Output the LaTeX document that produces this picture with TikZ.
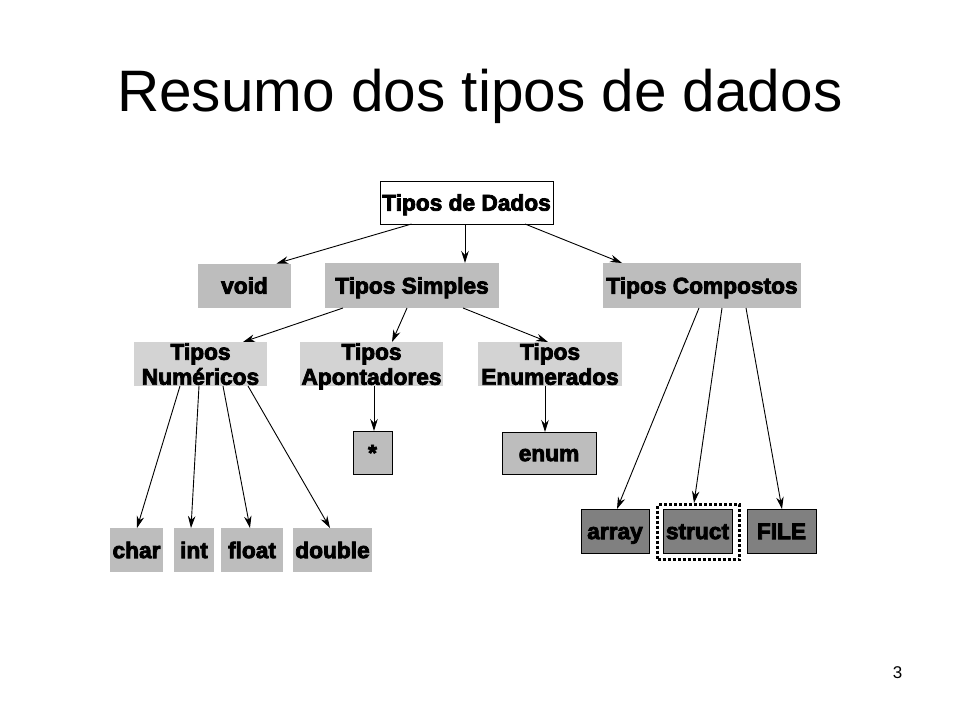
\documentclass[tikz,border=0pt]{standalone}
\usepackage{fontspec}
\setmainfont{Liberation Sans}
\newfontfamily\heavyfont{Liberation Sans Bold}[FakeBold=3.5]
\usetikzlibrary{arrows.meta}
\definecolor{midgray}{HTML}{BDBDBD}
\definecolor{lightgray}{HTML}{D3D3D3}
\definecolor{darkgray}{HTML}{808080}
\begin{document}
\begin{tikzpicture}[x=1pt,y=-1pt,
  box/.style={inner sep=0pt,outer sep=0pt,font=\heavyfont\fontsize{22.7}{25}\selectfont,align=center},
  one/.style={box,text height=16.2pt,text depth=0pt},
  whitebox/.style={one,draw=black,line width=0.8pt,fill=white},
  graybox/.style={one,fill=midgray},
  lightbox/.style={box,fill=lightgray,text depth=0pt},
  framedgray/.style={one,fill=midgray,draw=black,line width=0.8pt},
  darkbox/.style={one,fill=darkgray,draw=black,line width=0.8pt},
  wh/.style 2 args={minimum width=#1pt,minimum height=#2pt},
  arr/.style={-{Stealth[length=12pt,width=7.5pt]},line width=0.9pt}
]
\useasboundingbox (0,0) rectangle (960,720);
\fill[white] (0,0) rectangle (960,720);

\node[anchor=base west,inner sep=0pt,font=\fontsize{58.5}{60}\selectfont] (title) at (117,111) {Resumo dos tipos de dados};
\node[anchor=base,inner sep=0pt,font=\fontsize{17}{18}\selectfont] (page) at (897.5,678) {3};

\node[whitebox,wh={173}{43}] (tdd) at (466.5,202.5) {Tipos de Dados};
\node[graybox,wh={93}{44}] (void) at (244.5,285.5) {void};
\node[graybox,wh={174}{45}] (ts) at (412,285.5) {Tipos Simples};
\node[graybox,wh={198}{45}] (tc) at (702,285.5) {Tipos Compostos};

\node[lightbox,wh={133}{44}] (tn) at (200.5,364) {Tipos\\Numéricos};
\node[lightbox,wh={143}{44}] (ta) at (371.5,364) {Tipos\\Apontadores};
\node[lightbox,wh={144}{44}] (te) at (550,364) {Tipos\\Enumerados};

\node[framedgray,wh={39}{43}] (star) at (372.5,452.5) {*};
\node[framedgray,wh={94}{42}] (enum) at (549,453) {enum};

\node[graybox,wh={53}{44}] (char) at (136.5,550) {char};
\node[graybox,wh={40}{44}] (int) at (194,550) {int};
\node[graybox,wh={62}{44}] (float) at (252,550) {float};
\node[graybox,wh={79}{44}] (double) at (332.5,550) {double};

\node[darkbox,wh={68}{44}] (array) at (615,531) {array};
\node[darkbox,wh={69}{44}] (struct) at (697.5,531) {struct};
\node[darkbox,wh={69}{44}] (file) at (781.5,531) {FILE};
\node[draw=black,line width=3pt,dash pattern=on 3pt off 2pt,inner sep=0pt,minimum width=82pt,minimum height=55pt] (frame) at (698.5,532) {};

% connectors
\draw[arr] ([xshift=-55pt]tdd.south) -- ([xshift=32pt]void.north);
\draw[arr] ([xshift=-1.5pt]tdd.south) -- ([xshift=53pt]ts.north);
\draw[arr] ([xshift=58.5pt]tdd.south) -- ([xshift=-80pt]tc.north);

\draw[arr] ([xshift=-69pt]ts.south) -- ([xshift=42.5pt]tn.north);
\draw[arr] ([xshift=-5pt]ts.south) -- ([xshift=20.5pt]ta.north);
\draw[arr] ([xshift=51pt]ts.south) -- ([xshift=-2pt]te.north);

\draw[arr] ([xshift=2.5pt]ta.south) -- ([xshift=1.5pt]star.north);
\draw[arr] ([xshift=-5pt]te.south) -- ([xshift=-4pt]enum.north);

\draw[arr] ([xshift=-20.5pt]tn.south) -- ([xshift=0.5pt]char.north);
\draw[arr] ([xshift=-1.5pt]tn.south) -- ([xshift=-3pt]int.north);
\draw[arr] ([xshift=22.5pt]tn.south) -- ([xshift=-2pt]float.north);
\draw[arr] ([xshift=47.5pt]tn.south) -- ([xshift=-2.5pt]double.north);

\draw[arr] ([xshift=-3pt]tc.south) -- ([xshift=2pt]array.north);
\draw[arr] ([xshift=20pt]tc.south) -- ([xshift=-4.5pt]frame.north);
\draw[arr] ([xshift=44pt]tc.south) -- ([xshift=0.5pt]file.north);
\end{tikzpicture}
\end{document}
